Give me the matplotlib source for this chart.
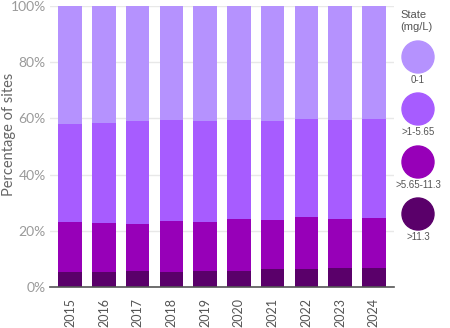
import matplotlib
matplotlib.use("Agg")
import matplotlib.pyplot as plt
from matplotlib.patches import Ellipse
import numpy as np

years = ["2015", "2016", "2017", "2018", "2019", "2020", "2021", "2022", "2023", "2024"]
categories = ["0-1", ">1-5.65", ">5.65-11.3", ">11.3"]
colors = ["#b592fe", "#a75cff", "#9700b8", "#5a006a"]

# Share of sites in each concentration band (%)
pct_gt11_3 = [5.4, 5.2, 5.7, 5.4, 5.7, 5.8, 6.3, 6.5, 6.8, 6.9]
pct_5_65_11_3 = [17.8, 17.5, 16.7, 18.2, 17.5, 18.4, 17.7, 18.4, 17.5, 17.5]
pct_1_5_65 = [34.8, 35.5, 36.7, 35.8, 36.0, 35.2, 35.0, 34.8, 35.1, 35.3]
pct_0_1 = [42.0, 41.8, 40.9, 40.6, 40.8, 40.6, 41.0, 40.3, 40.6, 40.3]

plt.rcParams["font.family"] = ["Lato", "DejaVu Sans"]

fig = plt.figure(figsize=(4.5, 3.28), dpi=100)
ax = fig.add_axes([50 / 450, 41 / 328, 344 / 450, 281 / 328])

x = np.arange(len(years))
stack = [pct_gt11_3, pct_5_65_11_3, pct_1_5_65, pct_0_1]
stack_colors = [colors[3], colors[2], colors[1], colors[0]]
bottom = np.zeros(len(years))
for vals, c in zip(stack, stack_colors):
    ax.bar(x, vals, bottom=bottom, width=0.7, color=c, zorder=2)
    bottom += np.array(vals)

ax.set_xlim(-0.6, len(years) - 0.4)
ax.set_ylim(0, 100)
ax.set_yticks([0, 20, 40, 60, 80, 100])
ax.set_yticklabels([f"{v}%" for v in [0, 20, 40, 60, 80, 100]])
ax.set_xticks(x)
ax.set_xticklabels(years, rotation=90)
ax.grid(axis="y", color="#e8e8e8", linewidth=1, zorder=0)
for s in ["top", "right", "left"]:
    ax.spines[s].set_visible(False)
ax.spines["bottom"].set_color("#555555")
ax.spines["bottom"].set_linewidth(1.2)
ax.tick_params(axis="y", length=0, labelsize=10, labelcolor="#9a9a9a", pad=3)
ax.tick_params(axis="x", length=0, labelsize=9, labelcolor="#555555", pad=8)
fig.text(9 / 450, 1 - 134 / 328, "Percentage of sites", rotation=90, fontsize=10.5,
         color="#666666", ha="center", va="center")

# Legend drawn as circles in figure pixel coordinates
fig.text(400 / 450, 1 - 10 / 328, "State\n(mg/L)", fontsize=8, color="#555555",
         family=["Liberation Sans", "DejaVu Sans"], va="top", ha="left", linespacing=1.2)
centers_y = [57, 109, 162, 214]
for cy, c, lab in zip(centers_y, colors, categories):
    fig.patches.append(Ellipse((418 / 450, 1 - cy / 328), 32 / 450, 32 / 328,
                               transform=fig.transFigure, color=c))
    fig.text(418 / 450, 1 - (cy + 23) / 328, lab, fontsize=7, color="#555555",
             family=["Liberation Sans", "DejaVu Sans"], ha="center", va="center")

fig.savefig("out.png", dpi=100)
